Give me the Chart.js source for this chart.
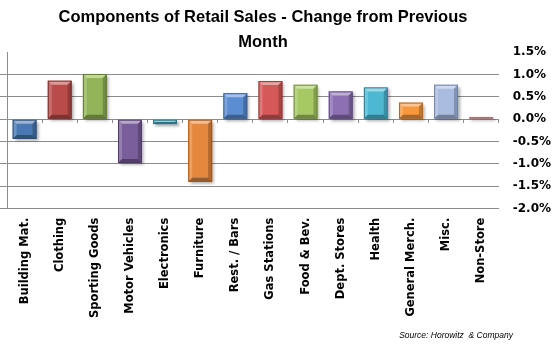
<!DOCTYPE html>
<html>
<head>
<meta charset="utf-8">
<script src="https://cdn.jsdelivr.net/npm/chart.js@4/dist/chart.umd.min.js"></script>
<style>
  body { margin:0; background:#fff; }
  #wrap { position:relative; width:553px; height:345px; }
  #title { position:absolute; left:0; top:4px; width:526px; text-align:center;
    font:bold 16.5px "Liberation Sans", Arial, sans-serif; line-height:25px; color:#000; }
  #source { position:absolute; right:40px; top:330px;
    font:italic 8.5px "Liberation Sans", Arial, sans-serif; color:#000; }
</style>
</head>
<body>
<div id="wrap">
  <canvas id="chart"></canvas>
  <div id="title">Components of Retail Sales - Change from Previous<br>Month</div>
  <div id="source">Source: Horowitz &nbsp;&amp; Company</div>
</div>
<script>
// chart data
const categories = ['Building Mat.','Clothing','Sporting Goods','Motor Vehicles','Electronics','Furniture',
  'Rest. / Bars','Gas Stations','Food & Bev.','Dept. Stores','Health','General Merch.','Misc.','Non-Store'];
const changes = [-0.44, 0.86, 1.01, -0.98, -0.11, -1.40, 0.58, 0.85, 0.77, 0.62, 0.71, 0.37, 0.77, 0.05];
const yTicks = [1.5, 1.0, 0.5, 0.0, -0.5, -1.0, -1.5, -2.0];

const fills = ['#4a78b2','#b94c4a','#93b456','#7a5e9c','#47a6bf','#e5873c',
  '#5a8dd2','#d6595a','#a6c963','#8d70b3','#4db8d2','#f6983f','#a9bbde','#e3aeac'];
const edges = ['#2c4f7c','#7d2c2a','#5f7a2e','#4f3a6c','#2a7388','#a2561c',
  '#345f98','#9a3332','#6e8d37','#5c4380','#2a8098','#b76620','#6f82a8','#a87472'];

const gridCol = '#8c8c8c';
const hideTop = ctx => (ctx.tick && ctx.tick.value === yTicks[0]) ? 'rgba(0,0,0,0)' : gridCol;
const xFont = { family: '"DejaVu Sans", Tahoma, sans-serif', size: 11.5, weight: 'bold' };
const yFont = { family: '"DejaVu Sans", Tahoma, sans-serif', size: 12, weight: 'bold' };

// bevel + shadow look of the bars
const bevel = {
  id: 'bevel',
  beforeDatasetsDraw(chart) {
    const c = chart.ctx;
    c.save();
    c.shadowColor = 'rgba(0,0,0,0.35)';
    c.shadowBlur = 3; c.shadowOffsetX = 2; c.shadowOffsetY = 2;
  },
  afterDatasetsDraw(chart) {
    const c = chart.ctx;
    c.restore();
    const quad = (pts, col) => {
      c.beginPath(); c.moveTo(pts[0], pts[1]);
      for (let i = 2; i < pts.length; i += 2) c.lineTo(pts[i], pts[i+1]);
      c.closePath(); c.fillStyle = col; c.fill();
    };
    chart.getDatasetMeta(0).data.forEach((bar, i) => {
      const p = bar.getProps(['x','y','base','width'], true);
      const l = p.x - p.width/2, r = p.x + p.width/2;
      const t = Math.min(p.y, p.base), b = Math.max(p.y, p.base);
      const s = Math.min(4, (b-t)/2, (r-l)/2);
      c.save();
      quad([l,t, r,t, r-s,t+s, l+s,t+s], 'rgba(255,255,255,0.45)');
      quad([l,t, l+s,t+s, l+s,b-s, l,b], 'rgba(255,255,255,0.2)');
      quad([r,t, r,b, r-s,b-s, r-s,t+s], 'rgba(0,0,0,0.22)');
      quad([l,b, r,b, r-s,b-s, l+s,b-s], 'rgba(0,0,0,0.32)');
      c.strokeStyle = edges[i]; c.lineWidth = 1;
      c.strokeRect(l+0.5, t+0.5, r-l-1, Math.max(b-t-1, 0));
      c.restore();
    });
  }
};

new Chart(document.getElementById('chart'), {
  type: 'bar',
  data: {
    labels: categories,
    datasets: [{
      data: changes,
      backgroundColor: fills,
      borderColor: edges,
      borderWidth: 0,
      barPercentage: 0.68,
      categoryPercentage: 1.0
    }]
  },
  options: {
    responsive: true,
    maintainAspectRatio: false,
    animation: false,
    layout: { padding: { top: 52, right: -12, bottom: 26, left: 0 } },
    plugins: { legend: { display: false }, tooltip: { enabled: false } },
    scales: {
      x: {
        grid: { display: false },
        border: { display: false },
        ticks: { minRotation: 90, maxRotation: 90, padding: 1, autoSkip: false, color: '#000', font: xFont }
      },
      xZero: {
        type: 'category',
        labels: categories,
        position: { y: 0 },
        grid: { offset: true, drawOnChartArea: false, tickLength: 4, color: gridCol },
        border: { display: false },
        ticks: { display: false }
      },
      y: {
        position: 'right',
        min: yTicks[yTicks.length-1], max: yTicks[0],
        afterBuildTicks: s => { s.ticks = yTicks.map(v => ({ value: v })); },
        grid: { color: hideTop, drawTicks: false },
        border: { display: false },
        ticks: { padding: 14, color: '#000', font: yFont, callback: v => v.toFixed(1) + '%' }
      },
      yLeft: {
        position: 'left',
        min: yTicks[yTicks.length-1], max: yTicks[0],
        afterBuildTicks: s => { s.ticks = yTicks.map(v => ({ value: v })); },
        grid: { drawOnChartArea: false, tickLength: 7, tickColor: hideTop, color: gridCol },
        border: { display: true, color: gridCol },
        ticks: { display: false }
      }
    }
  },
  plugins: [bevel]
});
</script>
</body>
</html>
